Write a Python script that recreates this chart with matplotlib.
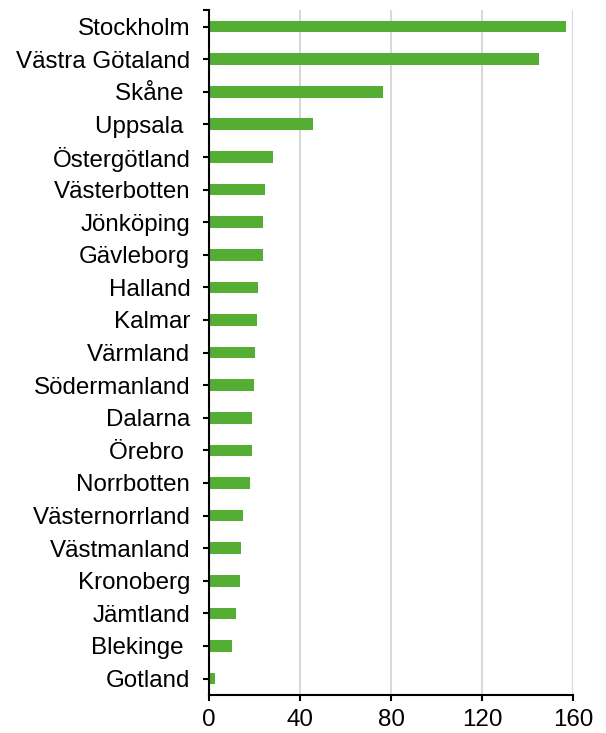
import numpy as np
import matplotlib.pyplot as plt
from matplotlib.ticker import FixedLocator

plt.rcParams['font.family'] = ['Liberation Sans', 'DejaVu Sans']

regions = ["Stockholm", "Västra Götaland", "Skåne ", "Uppsala ", "Östergötland",
           "Västerbotten", "Jönköping", "Gävleborg", "Halland", "Kalmar",
           "Värmland", "Södermanland", "Dalarna", "Örebro ", "Norrbotten",
           "Västernorrland", "Västmanland", "Kronoberg", "Jämtland", "Blekinge ",
           "Gotland"]
values = [156.8, 145.0, 76.6, 45.7, 28.3, 24.5, 23.9, 23.9, 21.7, 21.1,
          20.2, 19.6, 18.9, 18.8, 17.9, 14.9, 14.2, 13.6, 11.7, 10.2, 2.5]
xticks = [0, 40, 80, 120, 160]

fig = plt.figure(figsize=(6.06, 7.33), dpi=100)
ax = fig.add_axes([0.345, 0.052, 0.6005, 0.934])

y = np.arange(len(regions))
ax.barh(y, values, height=0.36, color='#53ae33', zorder=3)

ax.set_xlim(0, 160)
ax.set_ylim(len(regions) - 0.5, -0.5)

ax.set_xticks(xticks)
ax.set_xticklabels([str(t) for t in xticks])
ax.grid(axis='x', color='#d9d9d9', linewidth=1.5, zorder=0)

# ticks at the bar centres, plus a small one closing the top of the axis
ax.set_yticks(y)
ax.set_yticklabels(regions)
ax.yaxis.set_minor_locator(FixedLocator([-0.5]))
ax.tick_params(axis='y', which='both', length=4, width=1.5, direction='out')
ax.tick_params(axis='y', which='major', pad=9.5, labelsize=17.4)
ax.tick_params(axis='x', length=4, width=1.5, labelsize=17.4, pad=6)

for s in ['top', 'right']:
    ax.spines[s].set_visible(False)
for s in ['left', 'bottom']:
    ax.spines[s].set_linewidth(1.5)
    ax.spines[s].set_zorder(4)

fig.savefig('out.png', dpi=100)
